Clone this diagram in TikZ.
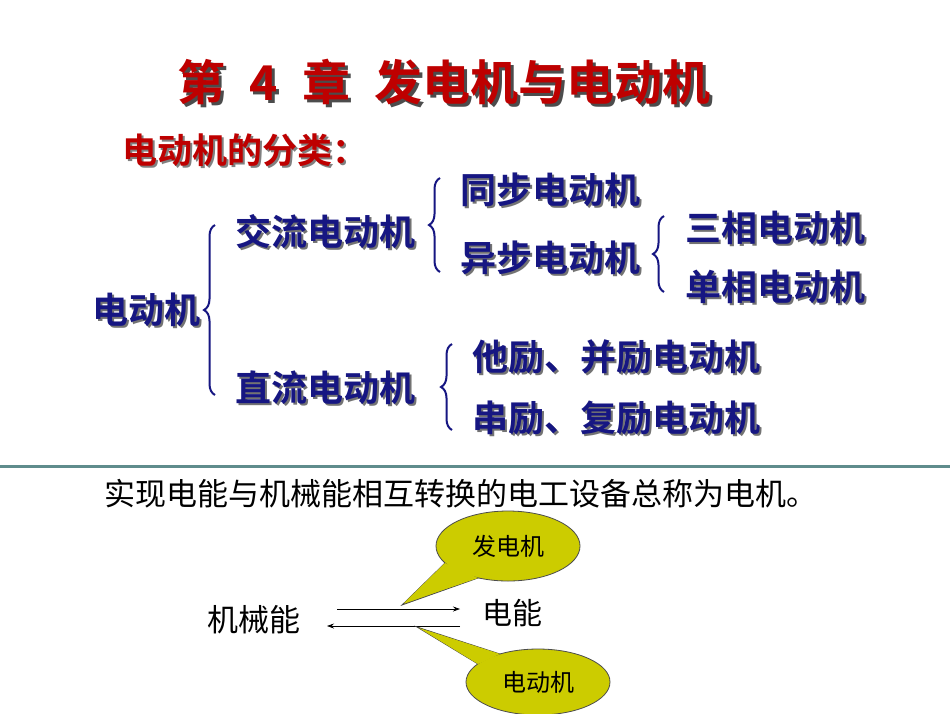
\documentclass[tikz,border=0pt]{standalone}
\usepackage{fontspec}
\newfontfamily\cjk{Noto Sans CJK SC}
\newfontfamily\cjkb{Noto Sans CJK SC Bold}
\usetikzlibrary{decorations.pathreplacing,arrows.meta,shapes.geometric}
\definecolor{navy}{RGB}{22,22,130}
\definecolor{dred}{RGB}{190,0,0}
\definecolor{olive}{RGB}{204,204,0}
\definecolor{teal}{RGB}{95,140,140}
\begin{document}
\begin{tikzpicture}[x=1pt,y=-1pt,
  lbl/.style={anchor=west,inner sep=0pt,font=\cjkb\fontsize{36}{36}\selectfont,text=navy},
  shd/.style={anchor=west,inner sep=0pt,font=\cjkb\fontsize{36}{36}\selectfont,text=black!55},
  brc/.style={draw=navy,line width=2pt,decorate,decoration={brace,amplitude=11pt}},
  bubble/.style={fill=olive,draw=black!70,line width=0.8pt},
  arr/.style={-{Stealth[length=7pt,width=5pt]},line width=0.7pt}]
\useasboundingbox[fill=white] (0,0) rectangle (950,713);
% title
\node[inner sep=0pt,font=\cjkb\fontsize{48}{48}\selectfont,text=black!70] at (447,85) {第\hspace{24pt}4\hspace{24pt}章\hspace{24pt}发电机与电动机};
\node (title) [inner sep=0pt,font=\cjkb\fontsize{48}{48}\selectfont,text=dred] at (444,82) {第\hspace{24pt}4\hspace{24pt}章\hspace{24pt}发电机与电动机};
\node[anchor=west,inner sep=0pt,font=\cjkb\fontsize{35}{35}\selectfont,text=black!50] at (124,152) {电动机的分类：};
\node (sub) [anchor=west,inner sep=0pt,font=\cjkb\fontsize{35}{35}\selectfont,text=dred] at (122,150) {电动机的分类：};
% tree labels with shadow
\foreach \n/\x/\y/\t in {m/92/310/电动机, ac/235/232/交流电动机, dc/235/388/直流电动机,
  syn/460/190/同步电动机, asyn/460/258/异步电动机, three/685/228/三相电动机, single/685/287/单相电动机,
  ta/472/357/他励、并励电动机, tb/472/418/串励、复励电动机}{
  \node[shd] at (\x+2,\y+2) {\t};
  \node (\n) [lbl] at (\x,\y) {\t};
}
% braces
\draw[brc] (215,395) -- (215,225);
\draw[brc] (440,272) -- (440,178);
\draw[brc] (664,292) -- (664,216);
\draw[brc] (452,430) -- (452,344);
% separator
\draw[teal,line width=3pt] (0,466) -- (950,466);
\node (sent) [anchor=west,inner sep=0pt,font=\cjk\fontsize{31}{31}\selectfont] at (104,494) {实现电能与机械能相互转换的电工设备总称为电机。};
\node (mech) [anchor=west,inner sep=0pt,font=\cjk\fontsize{31}{31}\selectfont] at (207,620) {机械能};
\node (elec) [anchor=west,inner sep=0pt,font=\cjk\fontsize{30}{30}\selectfont] at (482,613) {电能};
\coordinate (a1s) at (337,609); \coordinate (a1e) at (460,609);
\coordinate (a2s) at (460,626); \coordinate (a2e) at (327,626);
\draw[arr] (a1s) -- (a1e);
\draw[arr] (a2s) -- (a2e);
% callouts
\draw[bubble] (402,605) -- (445,563) -- (478,578) -- cycle;
\draw[bubble] (508,546) ellipse[x radius=72,y radius=35];
\fill[olive] (404,603) -- (445,563) -- (478,578) -- cycle;
\node (gen) [font=\cjk\fontsize{24}{24}\selectfont] at (508,546) {发电机};
\draw[bubble] (417,627) -- (478,664) -- (500,654) -- cycle;
\draw[bubble] (538,682) ellipse[x radius=72,y radius=33];
\fill[olive] (419,628) -- (478,664) -- (500,654) -- cycle;
\node (mot) [font=\cjk\fontsize{24}{24}\selectfont] at (538,682) {电动机};
\end{tikzpicture}
\end{document}
